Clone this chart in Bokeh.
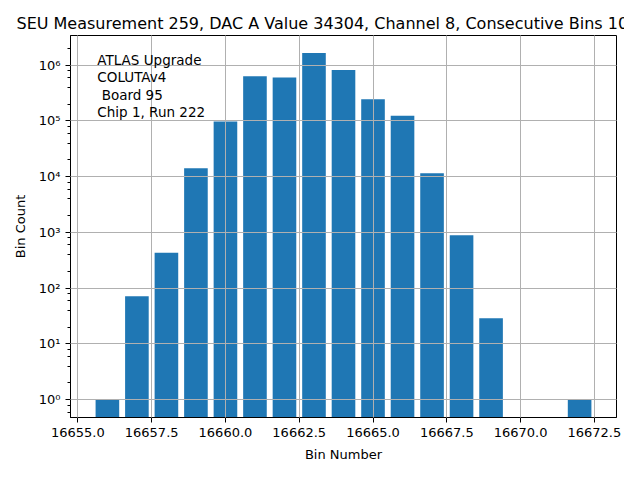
from bokeh.plotting import figure
from bokeh.models import ColumnDataSource, Label, SingleIntervalTicker, PrintfTickFormatter, CustomJSTickFormatter, LogTicker, Range1d
from bokeh.embed import file_html
from bokeh.resources import INLINE

title_text = "SEU Measurement 259, DAC A Value 34304, Channel 8, Consecutive Bins 100"
bins = [16656, 16657, 16658, 16659, 16660, 16661, 16662, 16663, 16664,
        16665, 16666, 16667, 16668, 16669, 16670, 16671, 16672]
counts = [1, 72, 430, 14100, 98000, 630000, 600000, 1650000, 820000,
          245000, 124000, 11500, 890, 29, 0, 0, 1]
info_lines = ["ATLAS Upgrade", "COLUTAv4", "\u00a0Board 95", "Chip 1, Run 222"]

nz_x = [b for b, c in zip(bins, counts) if c > 0]
nz_y = [c for c in counts if c > 0]
src = ColumnDataSource(dict(x=nz_x, top=nz_y, bottom=[1e-3] * len(nz_x)))

FONT = "DejaVu Sans"
p = figure(width=624, height=464, y_axis_type="log", output_backend="svg",
           toolbar_location=None,
           x_range=Range1d(16654.75, 16673.25), y_range=Range1d(0.48, 3.4e6),
           min_border_left=70, min_border_right=8, min_border_top=35,
           min_border_bottom=42)
p.vbar(x="x", top="top", bottom="bottom", width=0.8, source=src,
       fill_color="#1f77b4", line_color=None)

p.title.text = title_text
p.title.text_font = FONT
p.title.text_font_size = "16px"
p.title.text_font_style = "normal"
p.title.text_color = "black"
p.title.align = "left"
p.title.offset = -54
p.title.standoff = 6

p.outline_line_color = "black"
p.outline_line_width = 1
p.outline_line_alpha = 1

p.xaxis.ticker = SingleIntervalTicker(interval=2.5)
p.xaxis.formatter = PrintfTickFormatter(format="%.1f")
p.yaxis.ticker = LogTicker()
p.yaxis.formatter = CustomJSTickFormatter(code="""
const e = Math.round(Math.log10(tick));
const sup = {'0':'\u2070','1':'\u00b9','2':'\u00b2','3':'\u00b3','4':'\u2074','5':'\u2075','6':'\u2076','7':'\u2077','8':'\u2078','9':'\u2079','-':'\u207b'};
return '10' + String(e).split('').map(c => sup[c]).join('');
""")

for ax in (p.xaxis[0], p.yaxis[0]):
    ax.axis_line_color = "black"
    ax.major_tick_line_color = "black"
    ax.minor_tick_line_color = "black"
    ax.major_tick_out = 5
    ax.major_tick_in = 0
    ax.minor_tick_in = 0
    ax.major_label_text_font = FONT
    ax.major_label_text_font_size = "13px"
    ax.major_label_text_color = "black"
    ax.axis_label_text_font = FONT
    ax.axis_label_text_font_size = "13px"
    ax.axis_label_text_font_style = "normal"
    ax.axis_label_text_color = "black"
p.xaxis.minor_tick_out = 0
p.yaxis.minor_tick_out = 3
p.xaxis.axis_label = "Bin Number"
p.yaxis.axis_label = "Bin Count"
p.xaxis.axis_label_standoff = 7
p.yaxis.axis_label_standoff = 8

p.grid.grid_line_color = "#b0b0b0"
p.grid.grid_line_width = 1
p.grid.level = "guide"
p.xgrid.ticker = p.xaxis.ticker

lab = Label(x=16655.66, y=1.7e6, text="\n".join(info_lines), text_font=FONT,
            text_font_size="13.5px", text_baseline="top", text_align="left",
            text_line_height=1.07, text_color="black")
p.add_layout(lab)

open("out.html", "w").write(file_html(p, INLINE))
